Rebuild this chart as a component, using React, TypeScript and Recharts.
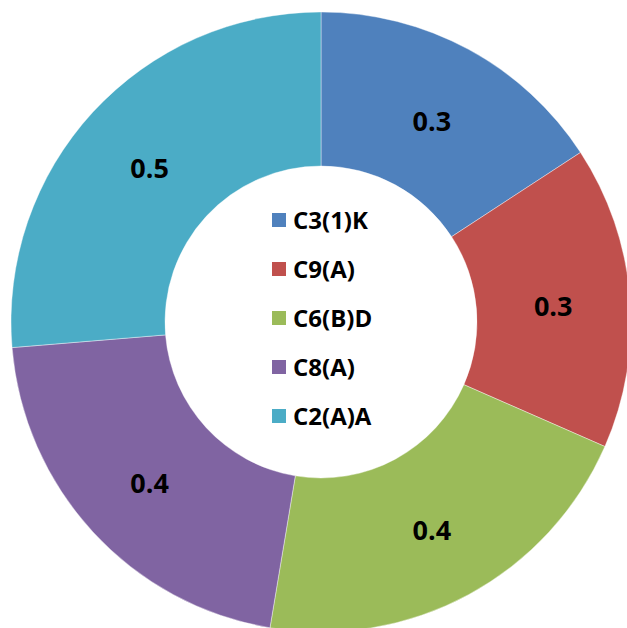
import { PieChart, Pie, Cell, Legend } from "recharts";

const names = ["C3(1)K", "C9(A)", "C6(B)D", "C8(A)", "C2(A)A"];
const values = [0.3, 0.3, 0.4, 0.4, 0.5];
const COLORS = ["#4F81BD", "#C0504D", "#9BBB59", "#8064A2", "#4BACC6"];

const data = names.map((name, i) => ({ name, value: values[i] }));

const RADIAN = Math.PI / 180;
const FONT = "'Open Sans', Lato, sans-serif";

function renderLabel(props: any) {
  const { cx, cy, midAngle, innerRadius, outerRadius, value } = props;
  const r = (innerRadius + outerRadius) / 2;
  const x = cx + r * Math.cos(-midAngle * RADIAN);
  const y = cy + r * Math.sin(-midAngle * RADIAN);
  return (
    <text
      x={x}
      y={y + 3}
      fill="#000"
      textAnchor="middle"
      dominantBaseline="central"
      fontSize={27}
      fontWeight="bold"
      fontFamily={FONT}
    >
      {value}
    </text>
  );
}

function renderLegend() {
  return (
    <div style={{ fontFamily: FONT }}>
      {names.map((n, i) => (
        <div key={n} style={{ display: "flex", alignItems: "center", height: 49 }}>
          <span style={{ width: 14, height: 14, background: COLORS[i], marginRight: 7, display: "inline-block" }} />
          <span style={{ fontSize: 24, fontWeight: "bold", color: "#000" }}>{n}</span>
        </div>
      ))}
    </div>
  );
}

export default function App() {
  return (
    <div style={{ position: "absolute", left: 0, top: 0, width: 627, height: 628, background: "#fff" }}>
      <PieChart width={627} height={628} margin={{ top: 0, right: 0, bottom: 0, left: 0 }}>
        <Pie
          data={data}
          dataKey="value"
          nameKey="name"
          cx={321}
          cy={322}
          innerRadius={156}
          outerRadius={310}
          startAngle={90}
          endAngle={-270}
          stroke="#ffffff"
          strokeWidth={0.4}
          label={renderLabel}
          labelLine={false}
          isAnimationActive={false}
        >
          {data.map((_, i) => (
            <Cell key={i} fill={COLORS[i]} />
          ))}
        </Pie>
        <Legend
          content={renderLegend}
          wrapperStyle={{ position: "absolute", left: 272, top: 195, width: 170, height: 250 }}
        />
      </PieChart>
    </div>
  );
}
